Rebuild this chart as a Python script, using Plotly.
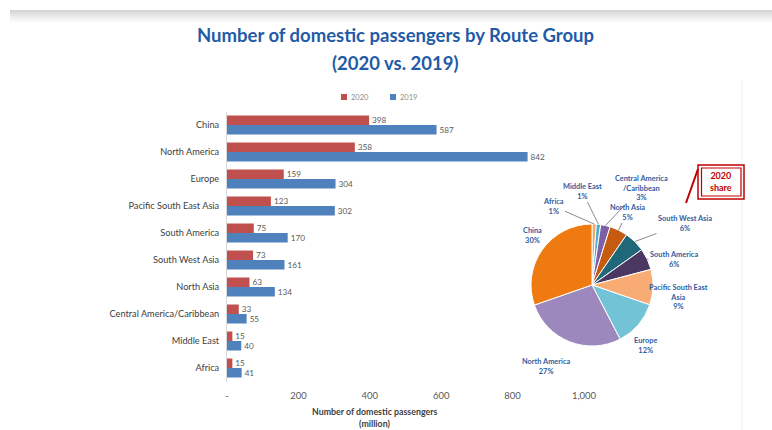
import math
import plotly.graph_objects as go

# ---- data -------------------------------------------------------------
routes = ["China", "North America", "Europe", "Pacific South East Asia",
          "South America", "South West Asia", "North Asia",
          "Central America/Caribbean", "Middle East", "Africa"]
pax_2020 = [398, 358, 159, 123, 75, 73, 63, 33, 15, 15]
pax_2019 = [587, 842, 304, 302, 170, 161, 134, 55, 40, 41]

x_tick_vals = [0, 200, 400, 600, 800, 1000]
x_tick_text = ["-", "200", "400", "600", "800", "1,000"]

title_lines = ["Number of domestic passengers by Route Group", "(2020 vs. 2019)"]

# ---- styling ----------------------------------------------------------
W, H = 772, 430
FONT = "Lato, Carlito, Calibri, sans-serif"
RED, BLUE = "#c0504d", "#4f81bd"
TITLE_BLUE = "#1f5ba6"
LABEL_BLUE = "#2e5d9f"

slice_colors = {
    "Africa": "#f6a462", "Middle East": "#47aed0",
    "Central America/Caribbean": "#7d5fa5", "North Asia": "#c55a11",
    "South West Asia": "#20677a", "South America": "#4a3862",
    "Pacific South East Asia": "#f8ab72", "Europe": "#72c3d5",
    "North America": "#9c88bd", "China": "#ef7a12",
}
slice_names = {
    "Central America/Caribbean": "Central America<br>/Caribbean",
    "Pacific South East Asia": "Pacific South East<br>Asia",
}
# label centre (px) and whether a leader line is drawn
label_pos = {
    "Africa": (553, 206, True), "Middle East": (582, 191, True),
    "Central America/Caribbean": (641, 188, True), "North Asia": (627, 212, True),
    "South West Asia": (685, 223, True), "South America": (674, 259, True),
    "Pacific South East Asia": (678, 297, False), "Europe": (645, 345, False),
    "North America": (546, 366, False), "China": (532, 235, False),
}

PIE_CX, PIE_CY, PIE_R = 592, 285, 61


def px(x):
    return x / W


def py(y):
    return 1 - y / H


def note(x, y, text, font, **kw):
    d = dict(x=px(x), y=py(y), xref="paper", yref="paper", text=text,
             showarrow=False, xanchor="center", yanchor="middle", font=font)
    d.update(kw)
    return d


fig = go.Figure()

# ---- grouped horizontal bars -----------------------------------------
for name, vals, col in [("2020", pax_2020, RED), ("2019", pax_2019, BLUE)]:
    fig.add_trace(go.Bar(
        y=routes, x=vals, name=name, orientation="h",
        marker=dict(color=col, line=dict(width=0)),
        text=[str(v) for v in vals], textposition="outside",
        textfont=dict(family=FONT, size=9.5, color="#595959"),
        cliponaxis=False, showlegend=False,
    ))

# ---- 2020 share pie --------------------------------------------------
pie_routes = routes[::-1]
pie_vals = pax_2020[::-1]
fig.add_trace(go.Pie(
    labels=pie_routes, values=pie_vals, sort=False, direction="clockwise",
    rotation=0, textinfo="none", hoverinfo="label+percent",
    marker=dict(colors=[slice_colors[r] for r in pie_routes],
                line=dict(color="white", width=1)),
    domain=dict(x=[px(PIE_CX - PIE_R), px(PIE_CX + PIE_R)],
                y=[py(PIE_CY + PIE_R), py(PIE_CY - PIE_R)]),
    showlegend=False,
))

annotations = []

# title, one annotation per line
title_font = dict(family=FONT, size=18.5, color=TITLE_BLUE, weight="bold")
annotations.append(note(395, 35, title_lines[0], title_font))
annotations.append(note(395, 63, title_lines[1], title_font))

# pie slice labels
total = sum(pie_vals)
cum = 0
for r, v in zip(pie_routes, pie_vals):
    mid = (cum + v / 2) / total
    cum += v
    theta = 2 * math.pi * mid
    ex = PIE_CX + PIE_R * math.sin(theta)
    ey = PIE_CY - PIE_R * math.cos(theta)
    tx, ty, leader = label_pos[r]
    text = f"{slice_names.get(r, r)}<br>{100 * v / total:.0f}%"
    font = dict(family=FONT, size=7.4, color=LABEL_BLUE, weight="bold")
    if leader:
        annotations.append(dict(
            x=px(ex), y=py(ey), xref="paper", yref="paper",
            ax=tx - ex, ay=ty - ey, text=text, font=font, showarrow=True,
            arrowhead=0, arrowwidth=1, arrowcolor="#8c8c8c", standoff=0,
            align="center"))
    else:
        annotations.append(note(tx, ty, text, font, align="center"))

# "2020 share" callout
annotations.append(note(721, 182, "2020<br>share",
                        dict(family=FONT, size=9, color="#c00000", weight="bold")))

# legend entries
for lab, sx in [("2020", 341), ("2019", 390)]:
    annotations.append(note(sx + 8, 97, lab,
                            dict(family=FONT, size=7.5, color="#8c8c8c"),
                            xanchor="left"))

# x axis title (two lines)
axis_title_font = dict(family=FONT, size=8.8, color="#404040", weight="bold")
annotations.append(note(374, 411, "Number of domestic passengers", axis_title_font))
annotations.append(note(374, 423, "(million)", axis_title_font))

shapes = []
# soft grey band along the top edge
greys = [214, 222, 230, 237, 243, 248]
for i, g in enumerate(greys):
    shapes.append(dict(type="rect", xref="paper", yref="paper",
                       x0=px(10), x1=1, y0=py(12 + 2 * i), y1=py(10 + 2 * i),
                       line=dict(width=0), fillcolor=f"rgb({g},{g},{g})", layer="below"))
shapes.append(dict(type="line", xref="paper", yref="paper", x0=px(742), x1=px(742),
                   y0=py(80), y1=0, line=dict(color="#f0f0f0", width=1)))
# legend squares
for col, sx in [(RED, 341), (BLUE, 390)]:
    shapes.append(dict(type="rect", xref="paper", yref="paper",
                       x0=px(sx), x1=px(sx + 6), y0=py(100), y1=py(94),
                       line=dict(width=0), fillcolor=col))
# callout box and pointer
shapes.append(dict(type="rect", xref="paper", yref="paper",
                   x0=px(698), x1=px(744), y0=py(199), y1=py(165),
                   line=dict(color="#c00000", width=1.5)))
shapes.append(dict(type="rect", xref="paper", yref="paper",
                   x0=px(701.5), x1=px(741), y0=py(196), y1=py(168),
                   line=dict(color="#c00000", width=1.2)))
shapes.append(dict(type="line", xref="paper", yref="paper",
                   x0=px(686), y0=py(203), x1=px(698), y1=py(169),
                   line=dict(color="#c00000", width=2)))

fig.update_layout(
    width=W, height=H, autosize=False,
    margin=dict(l=0, r=0, t=0, b=0, pad=0, autoexpand=False),
    paper_bgcolor="white", plot_bgcolor="rgba(0,0,0,0)",
    barmode="group", bargap=0.3, bargroupgap=0,
    xaxis=dict(domain=[px(227), px(584)], range=[0, 1000], showgrid=False,
               zeroline=False, showline=False, tickvals=x_tick_vals,
               ticktext=x_tick_text, ticks="", ticklabelstandoff=7,
               automargin=False,
               tickfont=dict(family=FONT, size=9.5, color="#595959")),
    yaxis=dict(domain=[py(381.5), py(111.5)], autorange="reversed",
               showgrid=False, zeroline=False, showline=True, automargin=False,
               linecolor="#d9d9d9", linewidth=1, ticks="", ticklabelstandoff=5,
               tickfont=dict(family=FONT, size=9.2, color="#404040")),
    annotations=annotations, shapes=shapes, showlegend=False,
)

fig.write_html("out.html")
